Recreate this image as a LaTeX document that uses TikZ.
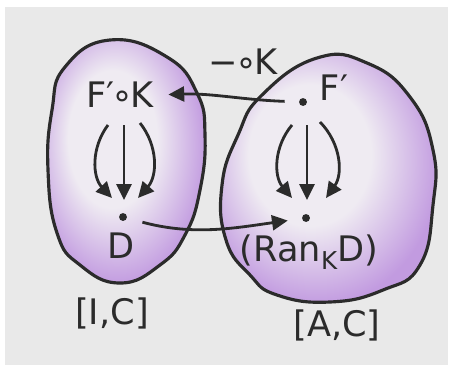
\documentclass[tikz,border=0pt]{standalone}
\usepackage{fontspec}
\setmainfont{DejaVu Sans}
\usetikzlibrary{arrows.meta, calc}
\usepackage{xcolor}
% Colors
\definecolor{paper}{HTML}{E9E9E9}
\definecolor{ink}{HTML}{2B2B2B}
\definecolor{lilac}{HTML}{C29BE0}
\definecolor{pale}{HTML}{EFEBF2}
\pgfdeclareradialshading{wash}{\pgfpoint{-6bp}{6bp}}{%
  color(0bp)=(pale); color(14bp)=(pale); color(28bp)=(lilac); color(50bp)=(lilac)}
\tikzset{
    >={Triangle[length=9pt, width=8.5pt]},
    % Shapes
    blob/.style={draw=ink, line width=1.8pt, shading=wash},
    lbl/.style={text=ink, font=\fontsize{20}{24}\selectfont, inner sep=1pt},
    objdot/.style={circle, fill=ink, inner sep=0pt, minimum size=4.5pt},
    % Arrows
    cell/.style={->, draw=ink, line width=1.6pt},
    map/.style={->, draw=ink, line width=1.6pt}
}

\begin{document}
\begin{tikzpicture}[x=0.02cm, y=-0.02cm]

\useasboundingbox (0,0) rectangle (452,365);
\fill[paper] (5,7) rectangle (448,365);

% the two functor categories
\shadedraw[blob] plot[smooth cycle, tension=0.8] coordinates {
  (110,40) (167,57) (197,93) (205,135) (200,190) (185,235) (160,265)
  (120,283) (80,265) (57,233) (48,170) (52,110) (65,67)};
\shadedraw[blob] plot[smooth cycle, tension=0.8] coordinates {
  (317,58) (367,63) (410,97) (433,150) (433,205) (420,265) (383,290)
  (330,302) (277,295) (250,275) (226,240) (222,185) (238,135) (262,95)};

\node[lbl] (fok) at (120,95) {F′\kern-1.5pt∘\kern-1.5pt K};
\node[objdot] (ddot) at (123,217) {};
\node[lbl] (d) at (121,246) {D};
\node[lbl] (ic) at (112,313) {[I,C]};

\node[objdot] (fpdot) at (303,102) {};
\node[lbl] (fp) at (334,88) {F′};
\node[objdot] (randot) at (306,218) {};
\node[lbl] (ran) at (309,252) {(Ran\raisebox{-0.45ex}{\fontsize{14}{14}\selectfont K}D)};
\node[lbl] (ac) at (337,325) {[A,C]};

\node[lbl] (prek) at (243,62) {−\kern-1.5pt∘\kern-1.5pt K};

% precomposition and the extension
\draw[map, shorten <=8pt, shorten >=7pt] (fpdot) to[out=178, in=2] (fok.east);
\draw[map, shorten <=9pt, shorten >=8pt] (ddot) to[out=-15, in=188] (randot);

% 2-cells into D
\draw[cell] ($(fok)+(-12,30)$) to[bend right=40] ($(ddot)+(-11,-19)$);
\draw[cell] ($(fok)+(4,30)$) -- ($(ddot)+(1,-17)$);
\draw[cell] ($(fok)+(20,28)$) to[bend left=40] ($(ddot)+(15,-19)$);

% 2-cells into Ran_K D
\draw[cell] ($(fpdot)+(-11,23)$) to[bend right=40] ($(randot)+(-14,-20)$);
\draw[cell] ($(fpdot)+(4,23)$) -- ($(randot)+(1,-18)$);
\draw[cell] ($(fpdot)+(17,20)$) to[bend left=40] ($(randot)+(20,-20)$);

\end{tikzpicture}
\end{document}
